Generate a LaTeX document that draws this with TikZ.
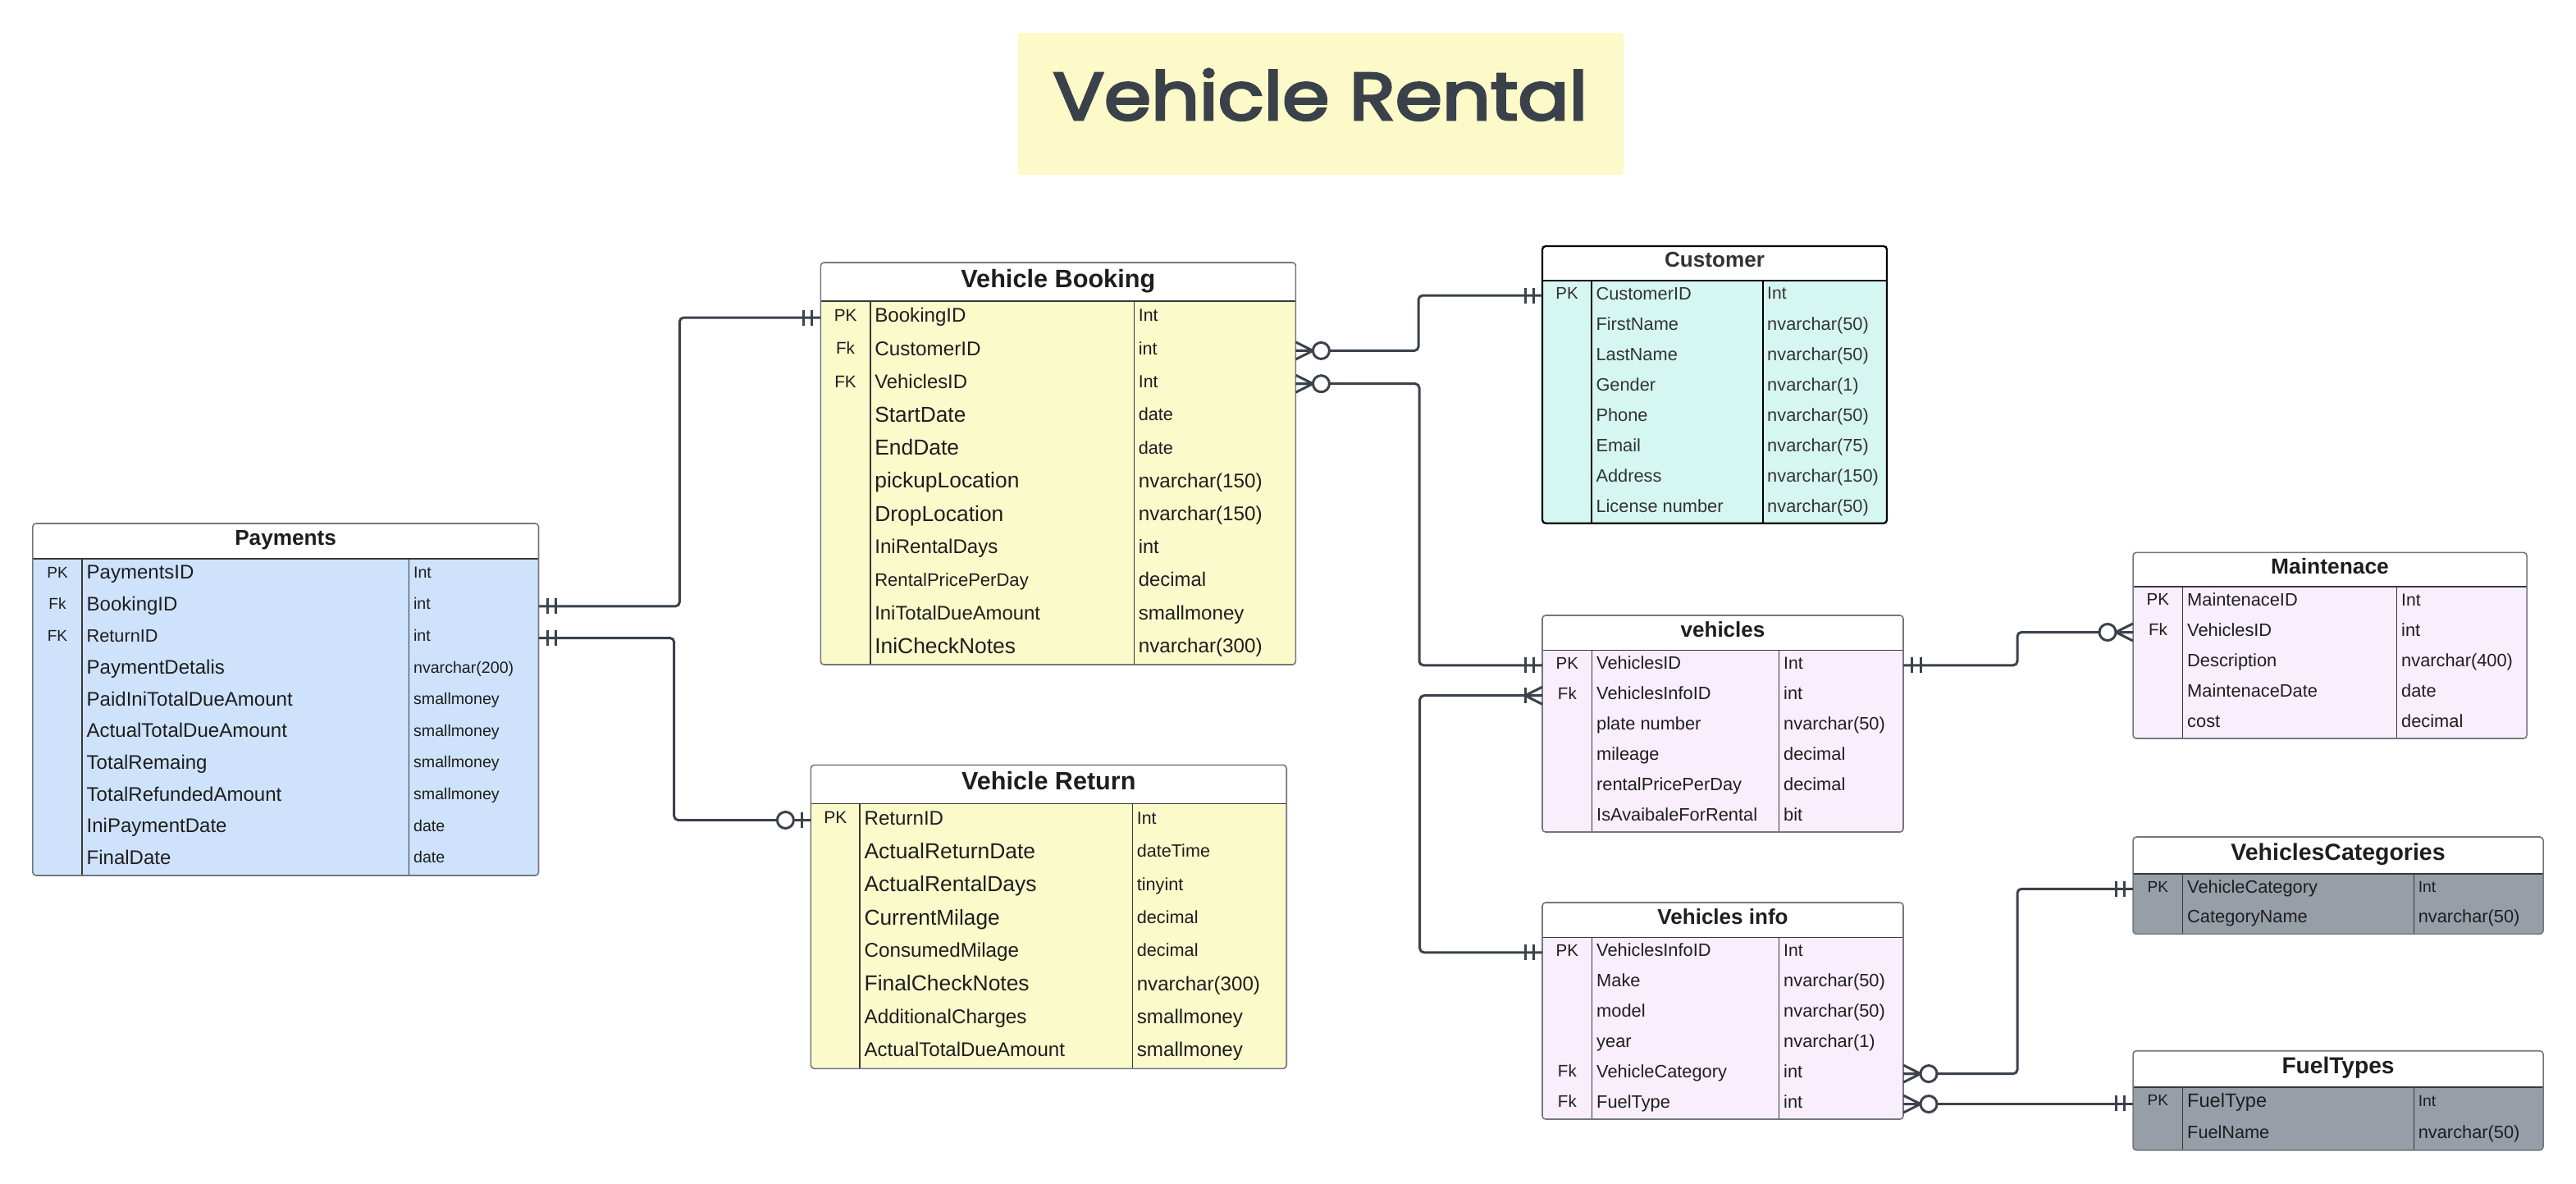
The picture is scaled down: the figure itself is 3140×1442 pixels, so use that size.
\documentclass[tikz,border=0pt]{standalone}
\usepackage{graphicx}
\usepackage{fontspec}
\setmainfont{Liberation Sans}
\newfontfamily\titlefont{Poppins}[FakeBold=3.5]
\usetikzlibrary{fit}
\definecolor{ink}{HTML}{3B424C}
\definecolor{payfill}{HTML}{CFE2FC}
\definecolor{yelfill}{HTML}{FBFACB}
\definecolor{cusfill}{HTML}{D6F7F1}
\definecolor{lavfill}{HTML}{F8EEFC}
\definecolor{grayfill}{HTML}{979EA8}
\definecolor{titlefill}{HTML}{FBFAC8}
\definecolor{titleink}{HTML}{3A414A}
\definecolor{txt}{HTML}{1E1E1E}
\definecolor{custxt}{HTML}{333333}
\definecolor{rim}{HTML}{73777D}
\tikzset{
  conn/.style={draw=ink, line width=0.85pt, rounded corners=0.05cm},
  endmk/.style={draw=ink, line width=0.85pt},
  tbox/.style={draw=rim, line width=0.45pt, rounded corners=0.04cm, inner sep=0pt, outer sep=0pt},
  tdiv/.style={draw=black!78, line width=0.4pt},
  cbox/.style={draw=black, line width=0.65pt, rounded corners=0.04cm, inner sep=0pt, outer sep=0pt},
  cdiv/.style={draw=black, line width=0.6pt},
  cell/.style={inner sep=0pt, outer sep=0pt},
}
\def\tbs{tbox}\def\tds{tdiv}\def\tc{txt}
\newcommand\setTable[9]{\def\tn{#1}\def\tL{#2}\def\tT{#3}\def\tR{#4}\def\tH{#5}\def\tB{#6}\def\tK{#7}\def\tY{#8}\def\tF{#9}}
\newcommand\drawTable[5]{%
  \begin{scope}
    \clip[rounded corners=0.04cm] (\tL,\tT) rectangle (\tR,\tB);
    \fill[white] (\tL,\tT) rectangle (\tR,\tH);
    \fill[\tF] (\tL,\tH) rectangle (\tR,\tB);
  \end{scope}
  \draw[\tds] (\tL,\tH) -- (\tR,\tH);
  \draw[\tds] (\tK,\tH) -- (\tK,\tB);
  \draw[\tds] (\tY,\tH) -- (\tY,\tB);
  \node[\tbs, fit={(\tL,\tT) (\tR,\tB)}] (\tn) {};
  \pgfmathsetmacro\tX{(\tL+\tR)/2}
  \pgfmathsetmacro\tyb{(\tT+\tH)/2-4.3+1.258*#2}
  \node[cell, anchor=base, text=\tc, font=\fontsize{#2}{#2}\selectfont\bfseries] (\tn-title) at (\tX,\tyb) {#1};
  \pgfmathsetmacro\tP{(\tB-\tH)/#4}
  \pgfmathsetmacro\tKc{(\tL+\tK)/2}
  \pgfmathsetmacro\xn{\tK+5.5}
  \pgfmathsetmacro\xt{\tY+5.5}
  \foreach \k/\nm/\ty/\ns/\ts [count=\i] in {#5} {
    \pgfmathsetmacro\yc{\tH+(\i-0.5)*\tP}
    \coordinate (\tn-\i-w) at (\tL,\yc);
    \coordinate (\tn-\i-e) at (\tR,\yc);
    \pgfmathsetmacro\yk{\yc-3+1.258*#3}
    \pgfmathsetmacro\yn{\yc-3+1.258*\ns}
    \pgfmathsetmacro\yt{\yc-3+1.258*\ts}
    \node[cell, anchor=base, text=\tc, font=\fontsize{#3}{#3}\selectfont] (\tn-k\i) at (\tKc,\yk) {\k};
    \node[cell, anchor=base west, text=\tc, font=\fontsize{\ns}{\ns}\selectfont] (\tn-n\i) at (\xn,\yn) {\nm};
    \node[cell, anchor=base west, text=\tc, font=\fontsize{\ts}{\ts}\selectfont] (\tn-t\i) at (\xt,\yt) {\ty};
  }
}
\newcommand\mkOne[2]{\begin{scope}[shift={(#1)}, xscale=#2]
  \draw[endmk] (10.5,-9.5) -- (10.5,9.5) (21,-9.5) -- (21,9.5);\end{scope}}
\newcommand\mkZeroOne[2]{\begin{scope}[shift={(#1)}, xscale=#2]
  \draw[endmk] (11,-9.5) -- (11,9.5);
  \draw[endmk, fill=white] (31,0) circle[radius=0.1cm];\end{scope}}
\newcommand\mkZeroMany[2]{\begin{scope}[shift={(#1)}, xscale=#2]
  \draw[endmk] (0,-10.5) -- (21,0) -- (0,10.5) (0,0) -- (21,0);
  \draw[endmk, fill=white] (31,0) circle[radius=0.1cm];\end{scope}}
\newcommand\mkOneMany[2]{\begin{scope}[shift={(#1)}, xscale=#2]
  \draw[endmk] (0,-10.5) -- (21,0) -- (0,10.5) (0,0) -- (21,0);
  \draw[endmk] (21,-9.5) -- (21,9.5);\end{scope}}
\begin{document}
\begin{tikzpicture}[x=0.01cm, y=-0.01cm]
\useasboundingbox (0,0) rectangle (3140,1442);
\fill[white] (0,0) rectangle (3140,1442);
% title
\node[fill=titlefill, rounded corners=0.03cm, inner sep=0pt, fit={(1240.7,40) (1979,213)}] (titlebox) {};
\node[cell, anchor=base, text=titleink] (titletext) at (1609.5,146) {\resizebox{6.51cm}{0.62cm}{\titlefont Vehicle Rental}};
% Payments
\setTable{pay}{39.8}{638}{656.5}{681}{1067}{100.2}{498.6}{payfill}
\drawTable{Payments}{7.45}{5.43}{10}{PK/PaymentsID/Int/6.83/5.58, Fk/BookingID/int/6.83/5.58, FK/ReturnID/int/6.17/5.58, /PaymentDetalis/nvarchar(200)/6.83/5.58, /PaidIniTotalDueAmount/smallmoney/6.83/5.58, /ActualTotalDueAmount/smallmoney/6.83/5.58, /TotalRemaing/smallmoney/6.83/5.58, /TotalRefundedAmount/smallmoney/6.83/5.58, /IniPaymentDate/date/6.83/5.58, /FinalDate/date/6.83/5.58}
% Vehicle Booking
\setTable{bk}{1000.3}{320}{1579.4}{367}{810}{1060.8}{1382.3}{yelfill}
\drawTable{Vehicle Booking}{8.72}{5.88}{11}{PK/BookingID/Int/6.86/6.07, Fk/CustomerID/int/6.89/6.17, FK/VehiclesID/Int/6.79/6.07, /StartDate/date/7.48/6.17, /EndDate/date/7.51/6.17, /pickupLocation/nvarchar(150)/7.51/6.89, /DropLocation/nvarchar(150)/7.51/6.89, /IniRentalDays/int/6.86/6.70, /RentalPricePerDay/decimal/6.27/6.79, /IniTotalDueAmount/smallmoney/6.79/6.86, /IniCheckNotes/nvarchar(300)/7.51/6.89}
% Vehicle Return
\setTable{ret}{988.4}{932.3}{1568.2}{979.3}{1302.3}{1048.1}{1380.3}{yelfill}
\drawTable{Vehicle Return}{8.69}{5.94}{8}{PK/ReturnID/Int/6.86/6.07, /ActualReturnDate/dateTime/7.51/6.14, /ActualRentalDays/tinyint/7.51/6.17, /CurrentMilage/decimal/7.48/6.17, /ConsumedMilage/decimal/6.89/6.17, /FinalCheckNotes/nvarchar(300)/7.51/6.86, /AdditionalCharges/smallmoney/6.89/6.89, /ActualTotalDueAmount/smallmoney/6.83/6.89}
% Customer
\def\tbs{cbox}\def\tds{cdiv}\def\tc{custxt}
\setTable{cus}{1880}{300}{2300}{341.7}{637.7}{1940}{2148.7}{cusfill}
\drawTable{Customer}{7.42}{5.83}{8}{PK/CustomerID/Int/6.2/6.0, /FirstName/nvarchar(50)/6.2/6.2, /LastName/nvarchar(50)/6.2/6.2, /Gender/nvarchar(1)/6.2/6.2, /Phone/nvarchar(50)/6.2/6.2, /Email/nvarchar(75)/6.2/6.2, /Address/nvarchar(150)/6.2/6.2, /License number/nvarchar(50)/6.2/6.2}
\def\tbs{tbox}\def\tds{tdiv}\def\tc{txt}
% vehicles
\setTable{veh}{1880}{750}{2320}{792.3}{1014}{1940.7}{2168.7}{lavfill}
\drawTable{vehicles}{7.4}{5.83}{6}{PK/VehiclesID/Int/6.2/6.0, Fk/VehiclesInfoID/int/6.2/6.2, /plate number/nvarchar(50)/6.2/6.2, /mileage/decimal/6.2/6.2, /rentalPricePerDay/decimal/6.2/6.2, /IsAvaibaleForRental/bit/6.2/6.2}
% Vehicles info
\setTable{vinfo}{1880}{1100}{2320}{1142.3}{1364}{1940.7}{2168.7}{lavfill}
\drawTable{Vehicles info}{7.4}{5.83}{6}{PK/VehiclesInfoID/Int/6.2/6.0, /Make/nvarchar(50)/6.2/6.2, /model/nvarchar(50)/6.2/6.2, /year/nvarchar(1)/6.2/6.2, Fk/VehicleCategory/int/6.2/6.2, Fk/FuelType/int/6.2/6.2}
% Maintenace
\setTable{mnt}{2600}{673.3}{3080}{715}{900}{2660.7}{2921.7}{lavfill}
\drawTable{Maintenace}{7.5}{5.83}{5}{PK/MaintenaceID/Int/6.2/6.0, Fk/VehiclesID/int/6.2/6.2, /Description/nvarchar(400)/6.2/6.2, /MaintenaceDate/date/6.2/6.2, /cost/decimal/6.2/6.2}
% VehiclesCategories
\setTable{cat}{2600}{1020}{3100}{1065}{1138.3}{2660.7}{2942.3}{grayfill}
\drawTable{VehiclesCategories}{8.1}{5.4}{2}{PK/VehicleCategory/Int/6.2/5.5, /CategoryName/nvarchar(50)/6.2/6.2}
% FuelTypes
\setTable{fuel}{2600}{1280.7}{3100}{1325}{1401.7}{2660.7}{2942.3}{grayfill}
\drawTable{FuelTypes}{8.0}{5.4}{2}{PK/FuelType/Int/6.7/5.5, /FuelName/nvarchar(50)/6.17/6.2}
% connector bends
\coordinate (j1) at (828.3,0);
\coordinate (j2) at (821.7,0);
\coordinate (j3) at (1729,0);
\coordinate (j4) at (1730,0);
\coordinate (j5) at (1730.7,0);
\coordinate (j6) at (2459,0);
\coordinate (j7) at (2459,0);
\draw[conn] (pay-2-e) -| (j1 |- bk-1-w) -- (bk-1-w);
\draw[conn] (pay-3-e) -| (j2 |- ret-1-w) -- (ret-1-w);
\draw[conn] (bk-2-e) -| (j3 |- cus-1-w) -- (cus-1-w);
\draw[conn] (bk-3-e) -| (j4 |- veh-1-w) -- (veh-1-w);
\draw[conn] (veh-2-w) -| (j5 |- vinfo-1-w) -- (vinfo-1-w);
\draw[conn] (veh-1-e) -| (j6 |- mnt-2-w) -- (mnt-2-w);
\draw[conn] (vinfo-5-e) -| (j7 |- cat-1-w) -- (cat-1-w);
\draw[conn] (vinfo-6-e) -- (vinfo-6-e -| fuel-1-w);
% end marks
\mkOne{pay-2-e}{1}\mkOne{bk-1-w}{-1}
\mkOne{pay-3-e}{1}\mkZeroOne{ret-1-w}{-1}
\mkZeroMany{bk-2-e}{1}\mkOne{cus-1-w}{-1}
\mkZeroMany{bk-3-e}{1}\mkOne{veh-1-w}{-1}
\mkOneMany{veh-2-w}{-1}\mkOne{vinfo-1-w}{-1}
\mkOne{veh-1-e}{1}\mkZeroMany{mnt-2-w}{-1}
\mkZeroMany{vinfo-5-e}{1}\mkOne{cat-1-w}{-1}
\mkZeroMany{vinfo-6-e}{1}\mkOne{fuel-1-w}{-1}
\end{tikzpicture}
\end{document}
